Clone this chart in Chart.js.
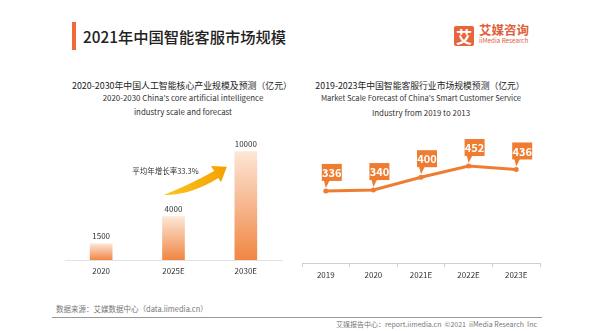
<!DOCTYPE html>
<html>
<head>
<meta charset="utf-8">
<script src="https://cdn.jsdelivr.net/npm/chart.js@4/dist/chart.umd.min.js"></script>
<style>
  html, body { margin: 0; padding: 0; background: #fff; }
  body { width: 600px; height: 331px; position: relative; overflow: hidden;
         font-family: "Noto Sans CJK SC", "Noto Sans", sans-serif; color: #333; }
  .abs { position: absolute; white-space: nowrap; }
  .ctr { transform: translateX(-50%); text-align: center; }
  canvas { position: absolute; }
</style>
</head>
<body>
  <!-- header -->
  <div class="abs" style="left:72px;top:22px;width:4px;height:28px;background:#ee6a3a;"></div>
  <div class="abs" style="left:83px;top:25px;font-size:15.3px;font-weight:500;color:#222;line-height:22px;">2021年中国智能客服市场规模</div>
  <div class="abs" style="left:454px;top:26px;width:20px;height:20px;background:#e8643c;border-radius:2px;color:#fff;font-size:16px;font-weight:700;line-height:20px;text-align:center;">艾</div>
  <div class="abs" style="left:479px;top:22px;font-size:12.5px;font-weight:700;color:#e0603a;line-height:16px;">艾媒咨询</div>
  <div class="abs" style="left:479px;top:37px;font-size:6.3px;color:#e0603a;line-height:8px;">iiMedia Research</div>

  <!-- left chart titles -->
  <div class="abs ctr" style="left:182px;top:79px;font-size:8.9px;line-height:14px;color:#222;">2020-2030年中国人工智能核心产业规模及预测（亿元）</div>
  <div class="abs ctr" style="left:183px;top:92px;font-size:7.9px;line-height:12px;color:#333;">2020-2030 China's core artificial intelligence</div>
  <div class="abs ctr" style="left:183px;top:106px;font-size:7.9px;line-height:12px;color:#333;">industry scale and forecast</div>

  <!-- right chart titles -->
  <div class="abs ctr" style="left:420px;top:79px;font-size:8.8px;line-height:14px;color:#222;">2019-2023年中国智能客服行业市场规模预测（亿元）</div>
  <div class="abs ctr" style="left:421px;top:92px;font-size:7.6px;line-height:12px;color:#333;">Market Scale Forecast of China's Smart Customer Service</div>
  <div class="abs ctr" style="left:421px;top:107px;font-size:7.9px;line-height:12px;color:#333;">Industry from 2019 to 2013</div>

  <canvas id="aiBar" width="232" height="170" style="left:60px;top:120px;"></canvas>
  <canvas id="csLine" width="255" height="170" style="left:295px;top:120px;"></canvas>

  <!-- footer -->
  <div class="abs" style="left:56px;top:303px;font-size:7.5px;line-height:11px;color:#777;">数据来源：艾媒数据中心（data.iimedia.cn）</div>
  <div class="abs" style="left:52px;top:317px;width:490px;height:1px;background:#999;"></div>
  <div class="abs" style="right:63px;top:319px;font-size:7px;line-height:10px;color:#777;">艾媒报告中心：report.iimedia.cn &nbsp;©2021 &nbsp;iiMedia Research &nbsp;Inc</div>

<script>
/* ============================================================
   DATA
   ============================================================ */

const aiYears   = ['2020', '2025E', '2030E'];
const aiScale   = [1500, 4000, 10000];
const cagrLabel = '平均年增长率33.3%';

const csYears   = ['2019', '2020', '2021E', '2022E', '2023E'];
const csScale   = [336, 340, 400, 452, 436];

const FONT   = '"Noto Sans CJK SC", "Noto Sans", sans-serif';
const ORANGE = '#ee7d31';

Chart.defaults.font.family = FONT;
Chart.defaults.color = '#333';

/* ============================================================
   LEFT: AI CORE INDUSTRY BARS
   ============================================================ */

const barLabels = {
  id: 'barLabels',
  afterDatasetsDraw(chart) {
    const c = chart.ctx;
    const meta = chart.getDatasetMeta(0);
    c.save();
    c.font = '8px ' + FONT;
    c.fillStyle = '#333';
    c.textAlign = 'center';
    c.textBaseline = 'middle';
    meta.data.forEach((bar, i) => c.fillText(String(aiScale[i]), bar.x, bar.y - 8));
    c.restore();
  },
};

// curved growth arrow + label, placed relative to the bars
const growthArrow = {
  id: 'growthArrow',
  afterDatasetsDraw(chart) {
    const c  = chart.ctx;
    const xs = chart.scales.x, ys = chart.scales.y;
    const x1 = xs.getPixelForValue(1), x2 = xs.getPixelForValue(2);
    const tail = { x: x1 - 10, y: ys.getPixelForValue(6000) };
    const tip  = { x: x2 - 19, y: ys.getPixelForValue(8600) };
    const ang  = -0.55;
    const hx = tip.x - 13 * Math.cos(ang), hy = tip.y - 13 * Math.sin(ang);
    const nx = -Math.sin(ang), ny = Math.cos(ang);

    const g = c.createLinearGradient(tail.x, tail.y, tip.x, tip.y);
    g.addColorStop(0, '#f9c51f');
    g.addColorStop(1, '#f5a000');
    c.save();
    c.fillStyle = g;
    c.beginPath();
    c.moveTo(tail.x, tail.y);
    c.quadraticCurveTo(tail.x + 28, tail.y, hx + nx * 5, hy + ny * 5);
    c.lineTo(hx + nx * 10, hy + ny * 10);
    c.lineTo(tip.x, tip.y);
    c.lineTo(hx - nx * 9, hy - ny * 9);
    c.lineTo(hx - nx * 3, hy - ny * 3);
    c.quadraticCurveTo(tail.x + 24, tail.y - 9, tail.x, tail.y);
    c.closePath();
    c.fill();

    c.font = '7.5px ' + FONT;
    c.fillStyle = '#333';
    c.textAlign = 'left';
    c.textBaseline = 'middle';
    c.fillText(cagrLabel, xs.getPixelForValue(0) + 31, ys.getPixelForValue(8200));
    c.restore();
  },
};

new Chart(document.getElementById('aiBar'), {
  type: 'bar',
  data: {
    labels: aiYears,
    datasets: [{
      data: aiScale,
      barThickness: 22,
      borderWidth: 0,
      backgroundColor: ctx => {
        const chart = ctx.chart;
        if (!chart.chartArea) return '#f3a06a';
        const y  = chart.scales.y;
        const g  = chart.ctx.createLinearGradient(0, y.getPixelForValue(ctx.raw), 0, y.getPixelForValue(0));
        g.addColorStop(0, '#fde6d6');
        g.addColorStop(1, '#f08643');
        return g;
      },
    }],
  },
  options: {
    responsive: false,
    devicePixelRatio: 1,
    animation: false,
    layout: { padding: { left: 5, right: 10, top: 10, bottom: 8.4 } },
    plugins: { legend: { display: false }, tooltip: { enabled: false } },
    scales: {
      x: {
        grid: { display: false, drawTicks: false },
        border: { display: true, color: '#e3e3e3', width: 1 },
        ticks: { padding: 6, font: { size: 8 }, color: '#333' },
      },
      y: { display: false, min: 0, max: 12000 },
    },
  },
  plugins: [barLabels, growthArrow],
});

/* ============================================================
   RIGHT: SMART CUSTOMER SERVICE LINE
   ============================================================ */

const calloutLabels = {
  id: 'calloutLabels',
  afterDatasetsDraw(chart) {
    const c = chart.ctx;
    const meta = chart.getDatasetMeta(0);
    c.save();
    c.font = 'bold 11px ' + FONT;
    c.textAlign = 'center';
    c.textBaseline = 'middle';
    meta.data.forEach((pt, i) => {
      const w = 20, h = 17;
      const left = pt.x - 4, top = pt.y - 27;
      c.fillStyle = ORANGE;
      c.fillRect(left, top, w, h);
      c.beginPath();
      c.moveTo(left + 2, top + h - 1);
      c.lineTo(left + 8, top + h - 1);
      c.lineTo(pt.x, pt.y - 3);
      c.closePath();
      c.fill();
      c.fillStyle = '#fff';
      c.fillText(String(csScale[i]), left + w / 2, top + h / 2 + 0.5);
    });
    c.restore();
  },
};

new Chart(document.getElementById('csLine'), {
  type: 'line',
  data: {
    labels: csYears,
    datasets: [{
      data: csScale,
      borderColor: ORANGE,
      borderWidth: 3,
      tension: 0,
      pointRadius: 2.5,
      pointBackgroundColor: ORANGE,
      pointBorderWidth: 0,
    }],
  },
  options: {
    responsive: false,
    devicePixelRatio: 1,
    animation: false,
    layout: { padding: { left: 7, right: 10, top: 10, bottom: 7.4 } },
    plugins: { legend: { display: false }, tooltip: { enabled: false } },
    scales: {
      x: {
        offset: true,
        grid: { drawOnChartArea: false, drawTicks: true, tickLength: 4, offset: true, color: '#cfcfcf' },
        border: { display: true, color: '#cfcfcf', width: 1 },
        ticks: { padding: 3, font: { size: 8 }, color: '#333' },
      },
      y: { display: false, min: 0, max: 620 },
    },
  },
  plugins: [calloutLabels],
});
</script>
</body>
</html>
